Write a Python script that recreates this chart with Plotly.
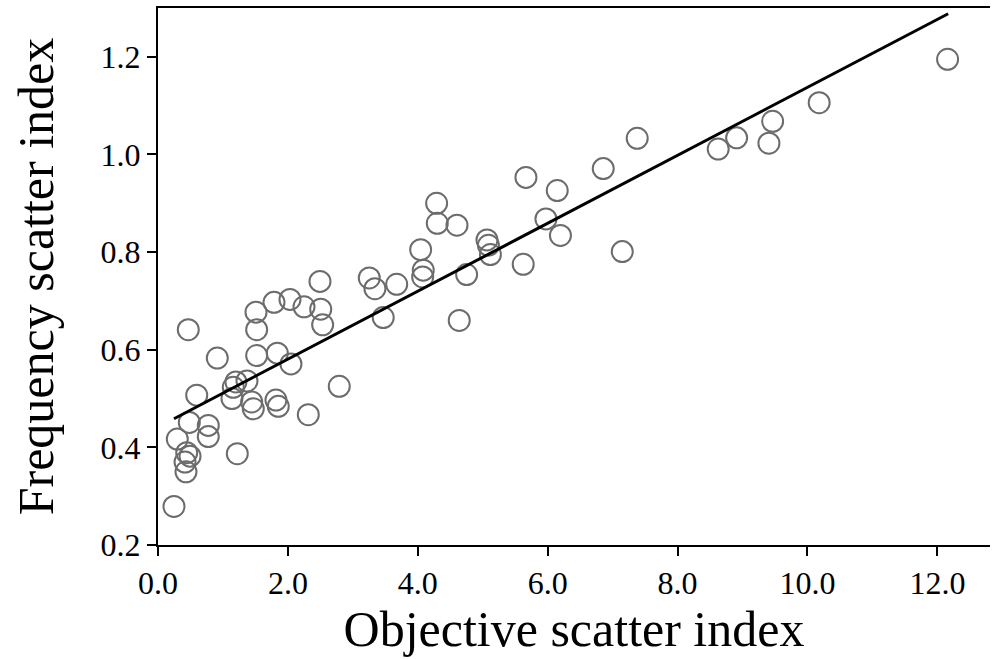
import plotly.graph_objects as go
import numpy as np

# Objective scatter index (x) and frequency scatter index (y)
objective_si = [0.246, 0.297, 0.442, 0.493, 0.416, 0.431, 0.466, 0.482, 0.596, 0.774,
                0.774, 0.913, 1.159, 1.200, 1.139, 1.221, 1.370, 1.442, 1.467, 1.509,
                1.519, 1.519, 1.786, 1.837, 1.816, 1.852, 2.032, 2.047, 2.248, 2.314,
                2.494, 2.505, 2.535, 2.791, 3.253, 3.340, 3.468, 3.675, 4.044, 4.084,
                4.075, 4.290, 4.300, 4.603, 4.638, 4.752, 5.065, 5.088, 5.118, 5.665,
                5.623, 5.973, 6.147, 6.196, 6.855, 7.148, 7.378, 8.625, 8.909, 9.406,
                9.463, 10.180, 12.157]
frequency_si = [0.279, 0.417, 0.389, 0.382, 0.370, 0.350, 0.641, 0.451, 0.507, 0.445,
                0.422, 0.583, 0.523, 0.534, 0.500, 0.387, 0.536, 0.493, 0.479, 0.677,
                0.641, 0.588, 0.697, 0.593, 0.497, 0.484, 0.703, 0.571, 0.688, 0.467,
                0.740, 0.683, 0.651, 0.525, 0.747, 0.725, 0.666, 0.734, 0.805, 0.763,
                0.749, 0.900, 0.859, 0.855, 0.660, 0.754, 0.825, 0.814, 0.795, 0.953,
                0.775, 0.868, 0.926, 0.834, 0.971, 0.801, 1.033, 1.011, 1.034, 1.023,
                1.068, 1.106, 1.195]

# Linear fit drawn in the chart
fit_slope = 0.0696
fit_intercept = 0.4415
fit_x = [0.246, 12.166]
fit_y = [fit_intercept + fit_slope * v for v in fit_x]

x_ticks = [0, 2, 4, 6, 8, 10, 12]
x_tick_labels = ["0.0", "2.0", "4.0", "6.0", "8.0", "10.0", "12.0"]
y_ticks = [0.2, 0.4, 0.6, 0.8, 1.0, 1.2]
y_tick_labels = ["0.2", "0.4", "0.6", "0.8", "1.0", "1.2"]

FONT = "Liberation Serif, Times New Roman, serif"

fig = go.Figure()
fig.add_trace(go.Scatter(
    x=objective_si, y=frequency_si, mode="markers",
    marker=dict(symbol="circle-open", size=21, color="#6c6c6c", line=dict(width=2, color="#6c6c6c")),
    showlegend=False, hoverinfo="x+y"))
fig.add_trace(go.Scatter(
    x=fit_x, y=fit_y, mode="lines",
    line=dict(color="black", width=3), showlegend=False))

fig.update_layout(
    width=992, height=659,
    margin=dict(l=158, r=2, t=8, b=114),
    paper_bgcolor="white", plot_bgcolor="white",
    font=dict(family=FONT, color="black"),
    xaxis=dict(range=[0, 12.81], tickvals=x_ticks, ticktext=x_tick_labels,
               showline=True, linecolor="black", linewidth=2, mirror=True,
               ticks="outside", ticklen=9, tickwidth=2, tickcolor="black",
               showgrid=False, zeroline=False, tickfont=dict(size=32, family=FONT),
               automargin=False,
               title=dict(text="Objective scatter index", font=dict(size=50, family=FONT), standoff=4)),
    yaxis=dict(range=[0.2, 1.3], tickvals=y_ticks, ticktext=y_tick_labels,
               showline=True, linecolor="black", linewidth=2,
               ticks="outside", ticklen=9, tickwidth=2, tickcolor="black",
               showgrid=False, zeroline=False, tickfont=dict(size=32, family=FONT),
               automargin=False,
               title=dict(text="Frequency scatter index", font=dict(size=50, family=FONT), standoff=31)),
)

fig.write_html("out.html", config={"displayModeBar": False},
               post_script="document.body.style.margin='0';document.body.style.overflow='hidden';")
